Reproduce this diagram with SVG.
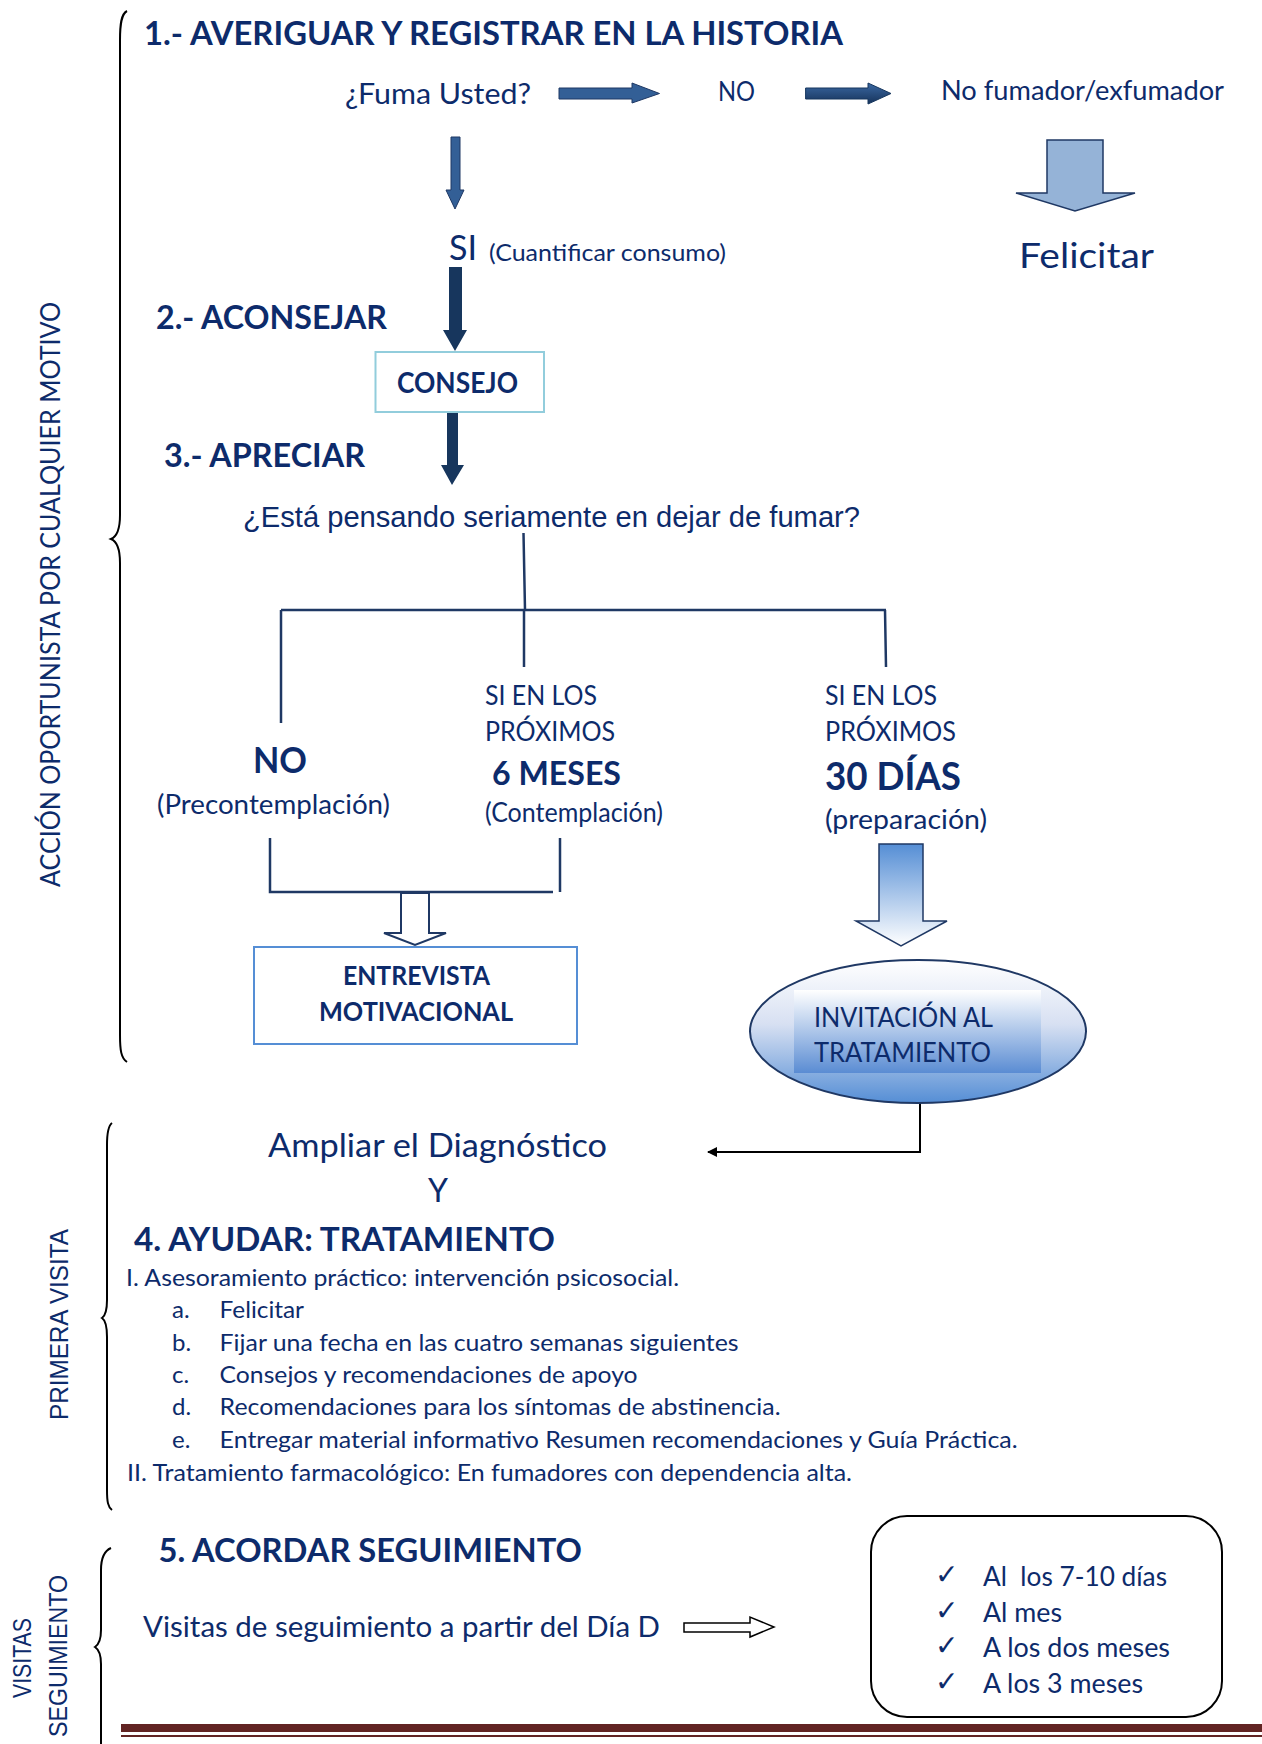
<svg xmlns="http://www.w3.org/2000/svg" width="1262" height="1744" viewBox="0 0 1262 1744">
<style>
.t{font-family:Lato,"Liberation Sans",sans-serif;fill:#0D2B6B}
.b{font-weight:bold}
.ar{font-family:"Liberation Sans",Arial,sans-serif;fill:#0D2B6B}
.ck{font-family:"DejaVu Sans",sans-serif;fill:#0D2B6B;font-size:28px}
.ln{stroke:#1F3864;stroke-width:2.5;fill:none}
.br{stroke:#000;stroke-width:2;fill:none}
</style>
<defs>
<linearGradient id="gDark" x1="0" y1="0" x2="0" y2="1"><stop offset="0" stop-color="#3B68A3"/><stop offset="1" stop-color="#16335A"/></linearGradient>
<linearGradient id="gDown" x1="0" y1="0" x2="0" y2="1"><stop offset="0" stop-color="#558ED5"/><stop offset="1" stop-color="#FFFFFF"/></linearGradient>
<linearGradient id="gUp" x1="0" y1="0" x2="0" y2="1"><stop offset="0" stop-color="#FFFFFF"/><stop offset="0.45" stop-color="#D7E0F2"/><stop offset="1" stop-color="#558ED5"/></linearGradient>
<linearGradient id="gRect" x1="0" y1="0" x2="0" y2="1"><stop offset="0" stop-color="#FFFFFF"/><stop offset="1" stop-color="#5A8CD3"/></linearGradient>
<marker id="ah" markerWidth="10" markerHeight="10" refX="9" refY="5" orient="auto" markerUnits="userSpaceOnUse"><path d="M0,0 L10,5 L0,10 Z" fill="#000"/></marker>
</defs>

<g id="braces">
<path class="br" d="M127,11 C121,14 120,25 120,40 L120,515 C120,530 116,537 111,539 C116,541 120,548 120,563 L120,1035 C120,1050 121,1058 127,1062"/>
<path class="br" d="M112,1123 C108,1126 107,1133 107,1145 L107,1300 C107,1312 105,1316 102,1318 C105,1320 107,1325 107,1337 L107,1490 C107,1502 108,1507 112,1510"/>
<path class="br" d="M111,1548 C104,1551 101,1558 101,1570 L101,1630 C101,1640 98,1645 95,1647 C98,1649 101,1654 101,1664 L101,1744"/>
</g>

<g id="side-labels">
<text class="t" font-size="26" text-anchor="middle" textLength="585" lengthAdjust="spacingAndGlyphs" transform="translate(60,594.5) rotate(-90)">ACCIÓN OPORTUNISTA POR CUALQUIER MOTIVO</text>
<text class="ar" font-size="25" text-anchor="middle" textLength="191" lengthAdjust="spacingAndGlyphs" transform="translate(68,1324.5) rotate(-90)">PRIMERA VISITA</text>
<text class="ar" font-size="25" text-anchor="middle" textLength="80" lengthAdjust="spacingAndGlyphs" transform="translate(31,1658) rotate(-90)">VISITAS</text>
<text class="ar" font-size="25" text-anchor="middle" textLength="162" lengthAdjust="spacingAndGlyphs" transform="translate(67,1656) rotate(-90)">SEGUIMIENTO</text>
</g>

<g id="connectors">
<polygon points="559,88 632,88 632,83 659.5,93.5 632,103 632,99 559,99" fill="#335F96" stroke="#1F3864" stroke-width="1"/>
<polygon points="805.6,88 868,88 868,83 891,93.5 868,104 868,99 805.6,99" fill="url(#gDark)" stroke="#17375E" stroke-width="1"/>
<polygon points="451,137 460,137 460,190 464,190 455,209 446,190 451,190" fill="#335F96" stroke="#1F3864" stroke-width="1"/>
<polygon points="1047,140 1103,140 1103,193 1135,193 1075,211 1016,193 1047,193" fill="#95B3D7" stroke="#1F3864" stroke-width="1.5"/>
<polygon points="449,267 462,267 462,330 467,330 455,351 443,330 449,330" fill="#17365D"/>
<polygon points="447,412 458,412 458,465 464,465 452,485 441,465 447,465" fill="#17365D"/>
<path class="ln" d="M523.5,533 L525,610 M281,610 L886,610 M281,610 L281,723 M524,610 L524,667 M885,610 L886,667"/>
<path class="ln" d="M270,838 L270,892 L553,892 M560,838 L560,892"/>
<polygon points="401,893 429,893 429,933 446,933 415,945 384,933 401,933" fill="#FFFFFF" stroke="#1F3864" stroke-width="2"/>
<polygon points="879,844 923,844 923,921 947,921 901,946 856,921 879,921" fill="url(#gDown)" stroke="#1F3864" stroke-width="1.5"/>
<path d="M920,1103 L920,1152 L708,1152" stroke="#000" stroke-width="2" fill="none" marker-end="url(#ah)"/>
<polygon points="684,1623 750,1623 750,1617 774,1627 750,1637 750,1632 684,1632" fill="#FFFFFF" stroke="#000" stroke-width="1.5"/>
</g>

<g id="title1"><text class="t b" x="144" y="45" font-size="33" textLength="699" lengthAdjust="spacingAndGlyphs">1.- AVERIGUAR Y REGISTRAR EN LA HISTORIA</text></g>
<g id="fuma"><text class="t" x="345" y="104" font-size="29" textLength="186" lengthAdjust="spacingAndGlyphs">¿Fuma Usted?</text></g>
<g id="no1"><text class="t" x="718" y="101" font-size="26" textLength="37" lengthAdjust="spacingAndGlyphs">NO</text></g>
<g id="nofumador"><text class="t" x="941" y="100" font-size="26" textLength="283" lengthAdjust="spacingAndGlyphs">No fumador/exfumador</text></g>
<g id="felicitar"><text class="t" x="1019" y="268" font-size="35" textLength="135" lengthAdjust="spacingAndGlyphs">Felicitar</text></g>
<g id="si"><text class="t" x="449" y="260" font-size="35" textLength="28" lengthAdjust="spacingAndGlyphs">SI</text><text class="t" x="489" y="261" font-size="24" textLength="237" lengthAdjust="spacingAndGlyphs">(Cuantificar consumo)</text></g>
<g id="title2"><text class="t b" x="156" y="329" font-size="33" textLength="231" lengthAdjust="spacingAndGlyphs">2.- ACONSEJAR</text></g>
<g id="consejo"><rect x="375.5" y="352" width="168.5" height="60" fill="#FFFFFF" stroke="#92CDDC" stroke-width="2"/><text class="t b" x="397" y="393" font-size="28" textLength="121" lengthAdjust="spacingAndGlyphs">CONSEJO</text></g>
<g id="title3"><text class="t b" x="164" y="467" font-size="33" textLength="201" lengthAdjust="spacingAndGlyphs">3.- APRECIAR</text></g>
<g id="pregunta"><text class="ar" x="243" y="527" font-size="29" textLength="617" lengthAdjust="spacingAndGlyphs">¿Está pensando seriamente en dejar de fumar?</text></g>
<g id="precontemplacion"><text class="t b" x="253" y="773" font-size="36" textLength="54" lengthAdjust="spacingAndGlyphs">NO</text><text class="t" x="157" y="814" font-size="26" textLength="233" lengthAdjust="spacingAndGlyphs">(Precontemplación)</text></g>
<g id="contemplacion"><text class="t" x="485" y="705" font-size="26" textLength="112" lengthAdjust="spacingAndGlyphs">SI EN LOS</text><text class="t" x="485" y="741" font-size="26" textLength="130" lengthAdjust="spacingAndGlyphs">PRÓXIMOS</text><text class="t b" x="492" y="785" font-size="33" textLength="129" lengthAdjust="spacingAndGlyphs">6 MESES</text><text class="t" x="485" y="822" font-size="26" textLength="178" lengthAdjust="spacingAndGlyphs">(Contemplación)</text></g>
<g id="preparacion"><text class="t" x="825" y="705" font-size="26" textLength="112" lengthAdjust="spacingAndGlyphs">SI EN LOS</text><text class="t" x="825" y="741" font-size="26" textLength="131" lengthAdjust="spacingAndGlyphs">PRÓXIMOS</text><text class="t b" x="825" y="790" font-size="38" textLength="136" lengthAdjust="spacingAndGlyphs">30 DÍAS</text><text class="t" x="825" y="829" font-size="26" textLength="162" lengthAdjust="spacingAndGlyphs">(preparación)</text></g>
<g id="entrevista"><rect x="254" y="947" width="323" height="97" fill="#FFFFFF" stroke="#558ED5" stroke-width="2"/><text class="t b" x="343" y="985" font-size="26" textLength="147" lengthAdjust="spacingAndGlyphs">ENTREVISTA</text><text class="t b" x="319" y="1021" font-size="26" textLength="194" lengthAdjust="spacingAndGlyphs">MOTIVACIONAL</text></g>
<g id="invitacion"><ellipse cx="918" cy="1031.5" rx="168" ry="71.5" fill="url(#gUp)" stroke="#1F3864" stroke-width="2"/><rect x="794" y="990" width="247" height="83" fill="url(#gRect)"/><text class="t" x="814" y="1027" font-size="26" textLength="179" lengthAdjust="spacingAndGlyphs">INVITACIÓN AL</text><text class="t" x="814" y="1062" font-size="26" textLength="177" lengthAdjust="spacingAndGlyphs">TRATAMIENTO</text></g>
<g id="ampliar"><text class="t" x="268" y="1157" font-size="32" textLength="339" lengthAdjust="spacingAndGlyphs">Ampliar el Diagnóstico</text><text class="t" x="438" y="1202" font-size="32" text-anchor="middle">Y</text></g>
<g id="title4"><text class="t b" x="134" y="1251" font-size="33" textLength="421" lengthAdjust="spacingAndGlyphs">4. AYUDAR: TRATAMIENTO</text></g>
<g id="lista">
<text class="t" x="126" y="1286" font-size="24" textLength="553" lengthAdjust="spacingAndGlyphs">I. Asesoramiento práctico: intervención psicosocial.</text>
<text class="t" x="172" y="1318" font-size="24">a.</text><text class="t" x="219.6" y="1318" font-size="24" textLength="84.4" lengthAdjust="spacingAndGlyphs">Felicitar</text>
<text class="t" x="172" y="1351" font-size="24">b.</text><text class="t" x="219.6" y="1351" font-size="24" textLength="519" lengthAdjust="spacingAndGlyphs">Fijar una fecha en las cuatro semanas siguientes</text>
<text class="t" x="172" y="1383" font-size="24">c.</text><text class="t" x="219.6" y="1383" font-size="24" textLength="418" lengthAdjust="spacingAndGlyphs">Consejos y recomendaciones de apoyo</text>
<text class="t" x="172" y="1415" font-size="24">d.</text><text class="t" x="219.6" y="1415" font-size="24" textLength="561" lengthAdjust="spacingAndGlyphs">Recomendaciones para los síntomas de abstinencia.</text>
<text class="t" x="172" y="1448" font-size="24">e.</text><text class="t" x="219.6" y="1448" font-size="24" textLength="798" lengthAdjust="spacingAndGlyphs">Entregar material informativo Resumen recomendaciones y Guía Práctica.</text>
<text class="t" x="127" y="1481" font-size="24" textLength="725" lengthAdjust="spacingAndGlyphs">II. Tratamiento farmacológico: En fumadores con dependencia alta.</text>
</g>
<g id="title5"><text class="t b" x="158.5" y="1562" font-size="33" textLength="423.5" lengthAdjust="spacingAndGlyphs">5. ACORDAR SEGUIMIENTO</text></g>
<g id="visitas"><text class="t" x="143" y="1637" font-size="29" textLength="517" lengthAdjust="spacingAndGlyphs">Visitas de seguimiento a partir del Día D</text></g>
<g id="calendario">
<rect x="871" y="1516" width="351" height="201" rx="36" ry="36" fill="#FFFFFF" stroke="#000" stroke-width="2"/>
<text class="ck" x="935" y="1584">✓</text><text class="t" x="983" y="1586" font-size="26" textLength="184" lengthAdjust="spacingAndGlyphs" xml:space="preserve">Al  los 7-10 días</text>
<text class="ck" x="935" y="1620">✓</text><text class="t" x="983" y="1622" font-size="26" textLength="79" lengthAdjust="spacingAndGlyphs">Al mes</text>
<text class="ck" x="935" y="1655">✓</text><text class="t" x="983" y="1657" font-size="26" textLength="187" lengthAdjust="spacingAndGlyphs">A los dos meses</text>
<text class="ck" x="935" y="1691">✓</text><text class="t" x="983" y="1693" font-size="26" textLength="160" lengthAdjust="spacingAndGlyphs">A los 3 meses</text>
</g>
<g id="footer-line"><rect x="121" y="1724" width="1141" height="8" fill="#622423"/><rect x="121" y="1735" width="1141" height="2" fill="#622423"/></g>
</svg>
